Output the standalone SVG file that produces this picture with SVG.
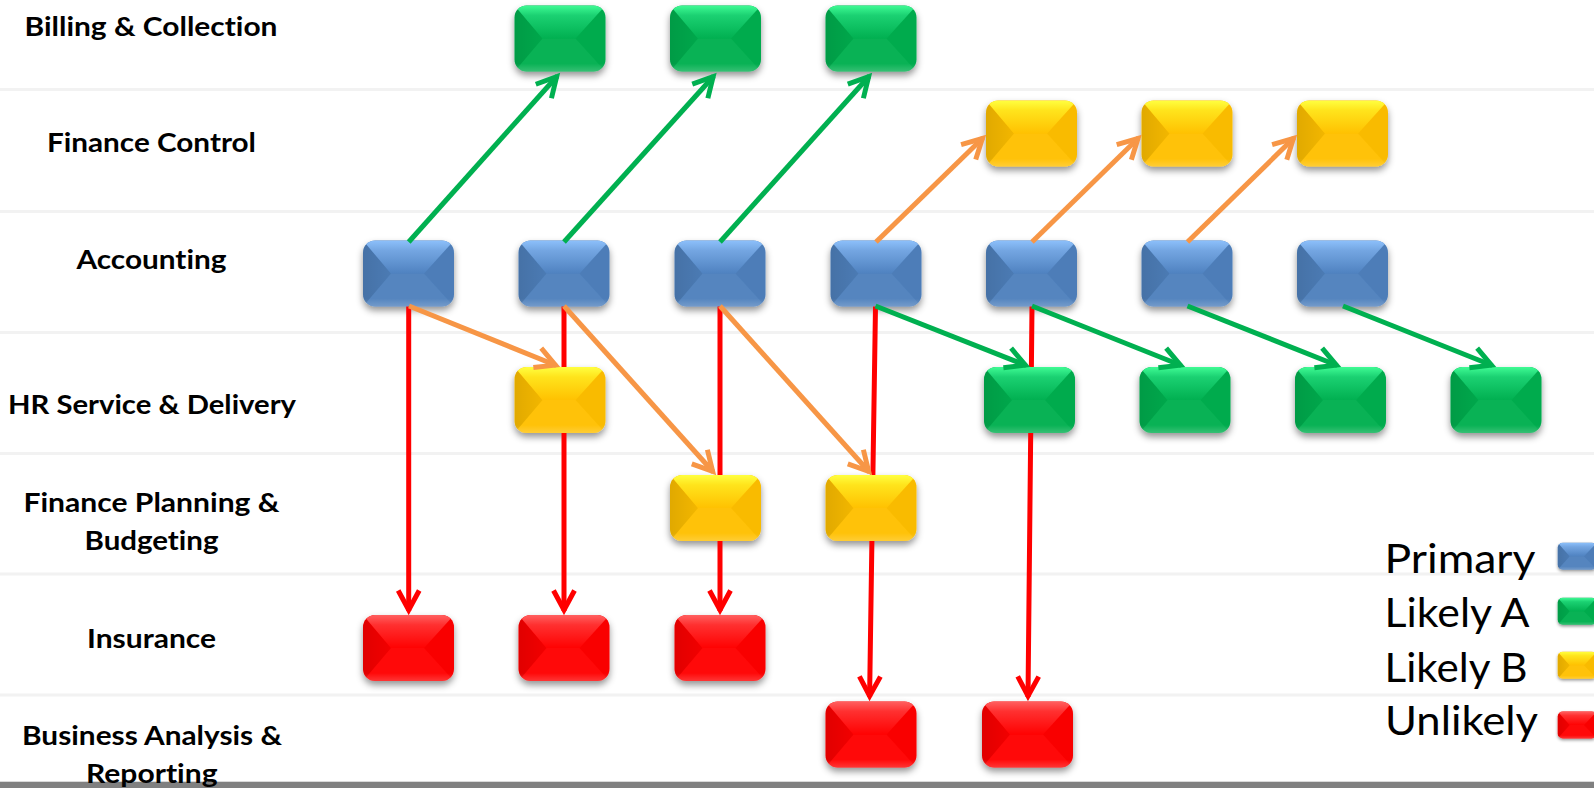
<svg xmlns="http://www.w3.org/2000/svg" xmlns:xlink="http://www.w3.org/1999/xlink" width="1594" height="788" viewBox="0 0 1594 788">
<style>
.row{stroke:#f2f2f2;stroke-width:3;fill:none}
.lbl{font-family:"Lato","Liberation Sans",sans-serif;font-weight:700;font-size:27px;fill:#000;font-variant-ligatures:none}
.leg{font-family:"Lato","Liberation Sans",sans-serif;font-weight:400;font-size:41px;fill:#000;font-variant-ligatures:none}
.c{fill:none;stroke-width:5}
.g{stroke:#00b050}.o{stroke:#f79646}.r{stroke:#ff0000}
.m{fill:none;stroke-width:5;stroke-linejoin:miter;stroke-miterlimit:6}
</style>
<defs>
<filter id="sh" x="-20%" y="-20%" width="140%" height="150%"><feDropShadow dx="0" dy="4" stdDeviation="3.5" flood-color="#000" flood-opacity=".42"/></filter>
<clipPath id="cp"><rect width="91" height="66" rx="12"/></clipPath>
<marker id="ag" markerUnits="userSpaceOnUse" markerWidth="34" markerHeight="34" refX="26" refY="17" orient="auto"><path class="m g" d="M5.5 6.5L25 17L5.5 27.5"/></marker>
<marker id="ao" markerUnits="userSpaceOnUse" markerWidth="34" markerHeight="34" refX="26" refY="17" orient="auto"><path class="m o" d="M5.5 6.5L25 17L5.5 27.5"/></marker>
<marker id="ar" markerUnits="userSpaceOnUse" markerWidth="34" markerHeight="34" refX="26" refY="17" orient="auto"><path class="m r" d="M5.5 6.5L25 17L5.5 27.5"/></marker>
<linearGradient id="tb" x1="0" y1="0" x2="0" y2="1"><stop offset="0" stop-color="#8cc0fb"/><stop offset=".3" stop-color="#74a6e2"/><stop offset="1" stop-color="#4f82c0"/></linearGradient>
<linearGradient id="tg" x1="0" y1="0" x2="0" y2="1"><stop offset="0" stop-color="#3ffb94"/><stop offset=".3" stop-color="#1bd172"/><stop offset="1" stop-color="#01b051"/></linearGradient>
<linearGradient id="ty" x1="0" y1="0" x2="0" y2="1"><stop offset="0" stop-color="#ffff40"/><stop offset=".3" stop-color="#ffe41c"/><stop offset="1" stop-color="#ffc101"/></linearGradient>
<linearGradient id="tr" x1="0" y1="0" x2="0" y2="1"><stop offset="0" stop-color="#ff6060"/><stop offset=".3" stop-color="#ff3030"/><stop offset="1" stop-color="#ff0202"/></linearGradient>
<linearGradient id="lf" x1="0" y1="0" x2="1" y2="0"><stop offset="0" stop-color="#000" stop-opacity=".12"/><stop offset="1" stop-color="#000" stop-opacity=".05"/></linearGradient>
<linearGradient id="bt" x1="0" y1="0" x2="0" y2="1"><stop offset=".88" stop-color="#fff" stop-opacity="0"/><stop offset="1" stop-color="#fff" stop-opacity=".18"/></linearGradient>
<g id="bevel" clip-path="url(#cp)">
<path d="M0 0L28 33L0 66Z" fill="url(#lf)"/>
<path d="M91 0L61 33L91 66Z" fill="#000" fill-opacity=".025"/>
<path d="M0 66L28 33H61L91 66Z" fill="#fff" fill-opacity=".035"/>
<rect width="91" height="66" fill="url(#bt)"/>
</g>
<symbol id="nb" width="91" height="66" overflow="visible"><g filter="url(#sh)"><rect width="91" height="66" rx="12" fill="#4f81bd"/></g><use xlink:href="#bevel"/><path clip-path="url(#cp)" d="M0 0H91L61 33H28Z" fill="url(#tb)"/></symbol>
<symbol id="ng" width="91" height="66" overflow="visible"><g filter="url(#sh)"><rect width="91" height="66" rx="12" fill="#00b050"/></g><use xlink:href="#bevel"/><path clip-path="url(#cp)" d="M0 0H91L61 33H28Z" fill="url(#tg)"/></symbol>
<symbol id="ny" width="91" height="66" overflow="visible"><g filter="url(#sh)"><rect width="91" height="66" rx="12" fill="#ffc000"/></g><use xlink:href="#bevel"/><path clip-path="url(#cp)" d="M0 0H91L61 33H28Z" fill="url(#ty)"/></symbol>
<symbol id="nr" width="91" height="66" overflow="visible"><g filter="url(#sh)"><rect width="91" height="66" rx="12" fill="#ff0000"/></g><use xlink:href="#bevel"/><path clip-path="url(#cp)" d="M0 0H91L61 33H28Z" fill="url(#tr)"/></symbol>
</defs>
<rect width="1594" height="788" fill="#fff"/>
<g id="rows">
<path class="row" d="M0 89.5H1594M0 211.5H1594M0 332.5H1594M0 453.5H1594M0 574H1594M0 695H1594"/>
<rect y="781" width="1594" height="1.5" fill="#d9d9d9"/>
<rect y="782" width="1594" height="6" fill="#808080"/>
</g>
<g id="labels">
<text class="lbl" x="24.5" y="36" textLength="253" lengthAdjust="spacingAndGlyphs">Billing &amp; Collection</text>
<text class="lbl" x="47" y="151.5" textLength="209" lengthAdjust="spacingAndGlyphs">Finance Control</text>
<text class="lbl" x="76.5" y="268.5" textLength="150" lengthAdjust="spacingAndGlyphs">Accounting</text>
<text class="lbl" x="8" y="414" textLength="288" lengthAdjust="spacingAndGlyphs">HR Service &amp; Delivery</text>
<text class="lbl" x="23.5" y="511.5" textLength="256" lengthAdjust="spacingAndGlyphs">Finance Planning &amp;</text>
<text class="lbl" x="84.5" y="550" textLength="134" lengthAdjust="spacingAndGlyphs">Budgeting</text>
<text class="lbl" x="87" y="647.5" textLength="129" lengthAdjust="spacingAndGlyphs">Insurance</text>
<text class="lbl" x="22" y="744.5" textLength="260" lengthAdjust="spacingAndGlyphs">Business Analysis &amp;</text>
</g>
<g id="n-bc1"><use xlink:href="#ng" x="514.5" y="5.5" width="91" height="66"/></g>
<g id="n-bc2"><use xlink:href="#ng" x="670" y="5.5" width="91" height="66"/></g>
<g id="n-bc3"><use xlink:href="#ng" x="825.5" y="5.5" width="91" height="66"/></g>
<g id="n-fc1"><use xlink:href="#ny" x="986" y="100.5" width="91" height="66"/></g>
<g id="n-fc2"><use xlink:href="#ny" x="1141.5" y="100.5" width="91" height="66"/></g>
<g id="n-fc3"><use xlink:href="#ny" x="1297" y="100.5" width="91" height="66"/></g>
<g id="n-ac1"><use xlink:href="#nb" x="363" y="240.5" width="91" height="66"/></g>
<g id="n-ac2"><use xlink:href="#nb" x="518.5" y="240.5" width="91" height="66"/></g>
<g id="n-ac3"><use xlink:href="#nb" x="674.5" y="240.5" width="91" height="66"/></g>
<g id="n-ac4"><use xlink:href="#nb" x="830.5" y="240.5" width="91" height="66"/></g>
<g id="n-ac5"><use xlink:href="#nb" x="986" y="240.5" width="91" height="66"/></g>
<g id="n-ac6"><use xlink:href="#nb" x="1141.5" y="240.5" width="91" height="66"/></g>
<g id="n-ac7"><use xlink:href="#nb" x="1297" y="240.5" width="91" height="66"/></g>
<g id="n-hr1"><use xlink:href="#ny" x="514.5" y="367" width="91" height="66"/></g>
<g id="n-hr2"><use xlink:href="#ng" x="984" y="367" width="91" height="66"/></g>
<g id="n-hr3"><use xlink:href="#ng" x="1139.5" y="367" width="91" height="66"/></g>
<g id="n-hr4"><use xlink:href="#ng" x="1295" y="367" width="91" height="66"/></g>
<g id="n-hr5"><use xlink:href="#ng" x="1450.5" y="367" width="91" height="66"/></g>
<g id="n-fp1"><use xlink:href="#ny" x="670" y="475" width="91" height="66"/></g>
<g id="n-fp2"><use xlink:href="#ny" x="825.5" y="475" width="91" height="66"/></g>
<g id="n-in1"><use xlink:href="#nr" x="363" y="615" width="91" height="66"/></g>
<g id="n-in2"><use xlink:href="#nr" x="518.5" y="615" width="91" height="66"/></g>
<g id="n-in3"><use xlink:href="#nr" x="674.5" y="615" width="91" height="66"/></g>
<g id="n-ba1"><use xlink:href="#nr" x="825.5" y="701.5" width="91" height="66"/></g>
<g id="n-ba2"><use xlink:href="#nr" x="982" y="701.5" width="91" height="66"/></g>
<g id="connectors">
<path class="c r" marker-end="url(#ar)" d="M408.7 306.5V611"/>
<path class="c r" marker-end="url(#ar)" d="M564 306.5V367M564 433V611"/>
<path class="c r" marker-end="url(#ar)" d="M720 306.5V475M720 541V611"/>
<path class="c r" marker-end="url(#ar)" d="M875.5 306.5L872.9 475M871.9 541L869.6 697"/>
<path class="c r" marker-end="url(#ar)" d="M1032 306.5L1031.4 367M1030.7 433L1028 697"/>
<path class="c g" marker-end="url(#ag)" d="M408.7 242L557.3 76"/>
<path class="c g" marker-end="url(#ag)" d="M564 242L713.8 76"/>
<path class="c g" marker-end="url(#ag)" d="M720 242L869.3 76"/>
<path class="c o" marker-end="url(#ao)" d="M876 242L983.1 137.8"/>
<path class="c o" marker-end="url(#ao)" d="M1032 242L1138.7 137.8"/>
<path class="c o" marker-end="url(#ao)" d="M1187.5 242L1294.1 137.8"/>
<path class="c o" marker-end="url(#ao)" d="M409 306L556.3 365.5"/>
<path class="c o" marker-end="url(#ao)" d="M564 306L713.3 472"/>
<path class="c o" marker-end="url(#ao)" d="M720 306L869.3 472"/>
<path class="c g" marker-end="url(#ag)" d="M875.5 306L1026.3 365.5"/>
<path class="c g" marker-end="url(#ag)" d="M1032 306L1181.3 365.5"/>
<path class="c g" marker-end="url(#ag)" d="M1187.5 306L1337.3 365.5"/>
<path class="c g" marker-end="url(#ag)" d="M1343 306L1492.3 365.5"/>
</g>
<g id="legend">
<text class="leg" x="1384.5" y="573" textLength="151" lengthAdjust="spacingAndGlyphs">Primary</text>
<text class="leg" x="1384.5" y="627" textLength="145" lengthAdjust="spacingAndGlyphs">Likely A</text>
<text class="leg" x="1384.5" y="681.5" textLength="143" lengthAdjust="spacingAndGlyphs">Likely B</text>
<text class="leg" x="1385" y="735" textLength="153" lengthAdjust="spacingAndGlyphs">Unlikely</text>
<g id="sw-primary" transform="translate(1557.7 542.7) scale(.43 .41)"><use xlink:href="#nb" width="91" height="66"/></g>
<g id="sw-a" transform="translate(1557.7 597.7) scale(.43 .41)"><use xlink:href="#ng" width="91" height="66"/></g>
<g id="sw-b" transform="translate(1557.7 651.7) scale(.43 .41)"><use xlink:href="#ny" width="91" height="66"/></g>
<g id="sw-u" transform="translate(1557.7 711.5) scale(.43 .41)"><use xlink:href="#nr" width="91" height="66"/></g>
</g>
<text class="lbl" x="86" y="782.5" textLength="131.5" lengthAdjust="spacingAndGlyphs">Reporting</text>
</svg>
